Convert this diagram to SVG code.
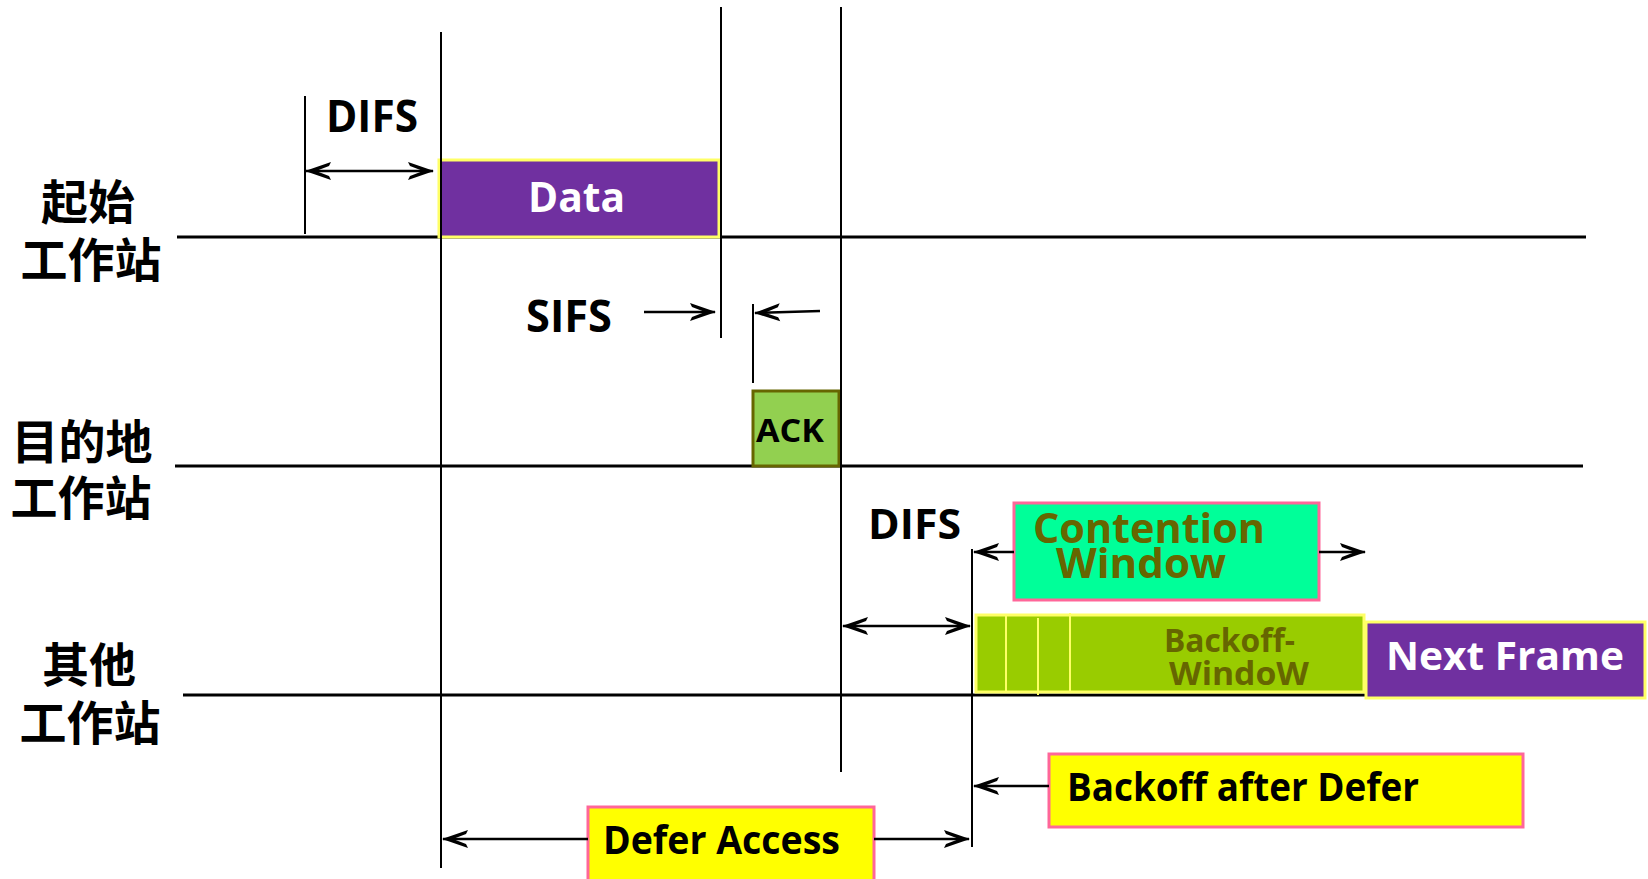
<svg xmlns="http://www.w3.org/2000/svg" width="1648" height="879" viewBox="0 0 1648 879">
<style>
.bg{fill:#ffffff}
.axis{stroke:#000;stroke-width:3;fill:none}
.vl{stroke:#000;stroke-width:2;fill:none}
.arr{stroke:#000;stroke-width:2.5;fill:none}
.lbl{font-family:"Open Sans","Liberation Sans",sans-serif;font-weight:700;fill:#000}
.cjk{font-family:"Noto Sans CJK SC","Noto Sans CJK TC",sans-serif;font-weight:700;font-size:47px;fill:#000;text-anchor:middle}
.wt{fill:#fff}
.ol{fill:#666600}
.purple{fill:#7030A0;stroke:#FFFF66;stroke-width:3}
.ybox{fill:#FFFF00;stroke:#FF6699;stroke-width:3}
.yline{stroke:#FFFF66;stroke-width:2}
</style>
<defs>
<marker id="ah" viewBox="-28 -11 31 22" refX="0" refY="0" markerWidth="31" markerHeight="22" markerUnits="userSpaceOnUse" orient="auto-start-reverse">
<path d="M1,0 L-25,-9 L-23,-5 L-10,0 L-23,5 L-25,9 Z" fill="#000"/>
</marker>
</defs>
<rect class="bg" x="0" y="0" width="1648" height="879"/>

<g id="axes">
<line class="axis" x1="177" y1="237" x2="1586" y2="237"/>
<line class="axis" x1="175" y1="466" x2="1583" y2="466"/>
<line class="axis" x1="183" y1="695" x2="1366" y2="695"/>
</g>

<g id="station-source">
<text class="cjk"><tspan x="88" y="219">起始</tspan><tspan x="91" y="277">工作站</tspan></text>
</g>
<g id="station-destination">
<text class="cjk"><tspan x="82" y="459">目的地</tspan><tspan x="81" y="515">工作站</tspan></text>
</g>
<g id="station-other">
<text class="cjk"><tspan x="89" y="682">其他</tspan><tspan x="90" y="740">工作站</tspan></text>
</g>

<g id="node-data">
<rect class="purple" x="439" y="160" width="280" height="77"/>
<text class="lbl wt" x="528" y="212" font-size="42" textLength="97" lengthAdjust="spacingAndGlyphs">Data</text>
</g>

<g id="node-ack">
<rect x="753" y="391" width="86" height="75" fill="#92D050" stroke="#666600" stroke-width="3"/>
<text class="lbl" x="756" y="442" font-size="33" textLength="68" lengthAdjust="spacingAndGlyphs">ACK</text>
</g>

<g id="node-contention">
<rect x="1014" y="503" width="305" height="97" fill="#00FF99" stroke="#FF6699" stroke-width="3"/>
<text class="lbl ol" font-size="42"><tspan x="1033" y="543" textLength="232" lengthAdjust="spacingAndGlyphs">Contention</tspan><tspan x="1056" y="578" textLength="170" lengthAdjust="spacingAndGlyphs">Window</tspan></text>
</g>

<g id="node-backoff">
<rect x="976" y="615" width="388" height="77" fill="#99CC00" stroke="#FFFF66" stroke-width="3"/>
<line class="yline" x1="1006" y1="615" x2="1006" y2="692"/>
<line class="yline" x1="1038" y1="618" x2="1038" y2="695"/>
<line class="yline" x1="1070" y1="613" x2="1070" y2="692"/>
<text class="lbl ol" font-size="33" font-weight="600"><tspan x="1164" y="652" textLength="131" lengthAdjust="spacingAndGlyphs">Backoff-</tspan><tspan x="1169" y="685" textLength="140" lengthAdjust="spacingAndGlyphs">WindoW</tspan></text>
</g>

<g id="node-next-frame">
<rect class="purple" x="1366" y="622" width="279" height="76"/>
<text class="lbl wt" x="1386" y="670" font-size="39" textLength="238" lengthAdjust="spacingAndGlyphs">Next Frame</text>
</g>

<g id="node-backoff-after-defer">
<rect class="ybox" x="1049" y="754" width="474" height="73"/>
<text class="lbl" x="1067" y="801" font-size="39" textLength="352" lengthAdjust="spacingAndGlyphs">Backoff after Defer</text>
</g>

<g id="node-defer-access">
<rect class="ybox" x="588" y="807" width="286" height="76"/>
<text class="lbl" x="603" y="854" font-size="39" textLength="237" lengthAdjust="spacingAndGlyphs">Defer Access</text>
</g>

<g id="interval-labels">
<text class="lbl" x="326" y="132" font-size="44" textLength="92" lengthAdjust="spacingAndGlyphs">DIFS</text>
<text class="lbl" x="526" y="332" font-size="44" textLength="86" lengthAdjust="spacingAndGlyphs">SIFS</text>
<text class="lbl" x="868" y="539" font-size="42" textLength="93" lengthAdjust="spacingAndGlyphs">DIFS</text>
</g>

<g id="connectors">
<line class="vl" x1="305" y1="96" x2="305" y2="234"/>
<line class="vl" x1="441" y1="32" x2="441" y2="868"/>
<line class="vl" x1="721" y1="7" x2="721" y2="338"/>
<line class="vl" x1="841" y1="7" x2="841" y2="772"/>
<line class="vl" x1="972" y1="549" x2="972" y2="847"/>
<line class="vl" x1="753" y1="304" x2="753" y2="383"/>
<line class="arr" x1="306" y1="171" x2="433" y2="171" marker-start="url(#ah)" marker-end="url(#ah)"/>
<line class="arr" x1="644" y1="312" x2="715" y2="312" marker-end="url(#ah)"/>
<line class="arr" x1="820" y1="311" x2="755" y2="313" marker-end="url(#ah)"/>
<line class="arr" x1="1014" y1="552" x2="974" y2="552" marker-end="url(#ah)"/>
<line class="arr" x1="1319" y1="552" x2="1365" y2="552" marker-end="url(#ah)"/>
<line class="arr" x1="843" y1="626" x2="970" y2="626" marker-start="url(#ah)" marker-end="url(#ah)"/>
<line class="arr" x1="1049" y1="786" x2="974" y2="786" marker-end="url(#ah)"/>
<line class="arr" x1="588" y1="839" x2="443" y2="839" marker-end="url(#ah)"/>
<line class="arr" x1="874" y1="839" x2="969" y2="839" marker-end="url(#ah)"/>
</g>
</svg>
